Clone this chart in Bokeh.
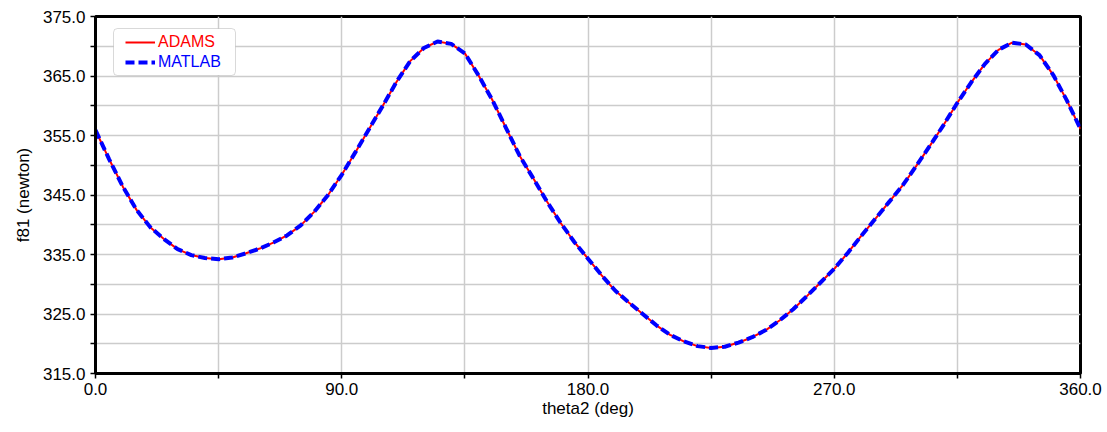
from bokeh.plotting import figure
from bokeh.models import (FixedTicker, PrintfTickFormatter, Legend, LegendItem,
                          BoxAnnotation, Range1d)
from bokeh.embed import file_html
from bokeh.resources import INLINE

# theta2 (deg)
theta2 = [0, 5, 10, 15, 20, 25, 30, 35, 40, 45, 50, 55, 60, 65, 70, 75, 80, 85, 90,
          95, 100, 105, 110, 115, 120, 125, 130, 135, 140, 145, 150, 155, 160, 165, 170,
          175, 180, 185, 190, 195, 200, 205, 210, 215, 220, 225, 230, 235, 240, 245, 250,
          255, 260, 265, 270, 275, 280, 285, 290, 295, 300, 305, 310, 315, 320, 325, 330,
          335, 340, 345, 350, 355, 360]
# f81 (newton), ADAMS
f81_adams = [355.9, 351.0, 346.4, 342.5, 339.6, 337.6, 335.9, 334.9, 334.4, 334.2,
             334.5, 335.2, 336.0, 337.0, 338.2, 339.9, 342.2, 345.0, 348.4,
             352.2, 356.1, 360.0, 364.0, 367.5, 369.7, 370.8, 370.4, 368.8, 365.1,
             361.0, 356.3, 351.6, 347.8, 343.9, 340.3, 337.1, 334.3, 331.5, 328.9,
             326.9, 325.0, 323.1, 321.5, 320.4, 319.6, 319.3, 319.5, 320.2, 321.1,
             322.3, 323.9, 325.8, 328.0, 330.3, 332.6, 335.3, 338.2, 341.0, 343.8,
             346.6, 349.9, 353.3, 356.8, 360.5, 363.9, 367.0, 369.4, 370.6, 370.3,
             368.5, 365.2, 360.9, 356.1]
# f81 (newton), MATLAB
f81_matlab = list(f81_adams)

x_ticks = [0, 90, 180, 270, 360]
x_minor = [45, 135, 225, 315]
y_ticks = [315, 325, 335, 345, 355, 365, 375]
y_minor = [320, 330, 340, 350, 360, 370]

FONT = "Liberation Sans"

p = figure(width=1107, height=432, x_range=Range1d(0, 360), y_range=Range1d(315, 375),
           output_backend="svg", toolbar_location=None,
           min_border_left=95, min_border_right=27, min_border_top=16, min_border_bottom=59)
p.background_fill_color = "white"
p.border_fill_color = "white"
p.outline_line_color = "black"
p.outline_line_width = 3

for ax, ticks, minor in ((p.xaxis[0], x_ticks, x_minor), (p.yaxis[0], y_ticks, y_minor)):
    ax.ticker = FixedTicker(ticks=ticks, minor_ticks=minor)
    ax.formatter = PrintfTickFormatter(format="%.1f")
    ax.axis_line_width = 3
    ax.axis_line_color = "black"
    ax.major_tick_line_color = "black"
    ax.minor_tick_line_color = "black"
    ax.major_tick_line_width = 1.5
    ax.minor_tick_line_width = 1.5
    ax.major_tick_out = 5
    ax.major_tick_in = 0
    ax.minor_tick_out = 5
    ax.minor_tick_in = 0
    ax.major_label_text_font = FONT
    ax.major_label_text_font_size = "17px"
    ax.major_label_text_color = "black"
    ax.axis_label_text_font = FONT
    ax.axis_label_text_font_size = "17px"
    ax.axis_label_text_font_style = "normal"
    ax.axis_label_text_color = "black"

p.xaxis.axis_label = "theta2 (deg)"
p.yaxis.axis_label = "f81 (newton)"
p.xaxis.major_label_standoff = 4
p.yaxis.major_label_standoff = 5
p.xaxis.axis_label_standoff = 1
p.yaxis.axis_label_standoff = 7

p.xgrid.ticker = FixedTicker(ticks=sorted(x_ticks + x_minor))
p.ygrid.ticker = FixedTicker(ticks=sorted(y_ticks + y_minor))
for g in (p.xgrid[0], p.ygrid[0]):
    g.grid_line_color = "#cccccc"
    g.grid_line_width = 1.5

r_adams = p.line(theta2, f81_adams, line_color="#ff0000", line_width=2)
r_matlab = p.line(theta2, f81_matlab, line_color="#0000ff", line_width=4, line_dash="9 4")

box = BoxAnnotation(left=18, right=140, bottom=298, top=345,
                    left_units="screen", right_units="screen",
                    bottom_units="screen", top_units="screen",
                    fill_color="white", fill_alpha=1.0,
                    line_color="#808080", line_width=1, border_radius=4, level="overlay")
p.add_layout(box)

def make_legend(renderer, label, color, y):
    lg = Legend(items=[LegendItem(label=label, renderers=[renderer])],
                location=(30, y), orientation="vertical",
                label_text_color=color, label_text_font=FONT,
                label_text_font_size="16px", glyph_width=30, glyph_height=20,
                label_height=20, label_standoff=3, padding=0, margin=0, spacing=0,
                border_line_alpha=0, background_fill_alpha=0, level="overlay")
    return lg

p.add_layout(make_legend(r_adams, "ADAMS", "#ff0000", 321), "center")
p.add_layout(make_legend(r_matlab, "MATLAB", "#0000ff", 301), "center")

open("out.html", "w").write(file_html(p, INLINE))
